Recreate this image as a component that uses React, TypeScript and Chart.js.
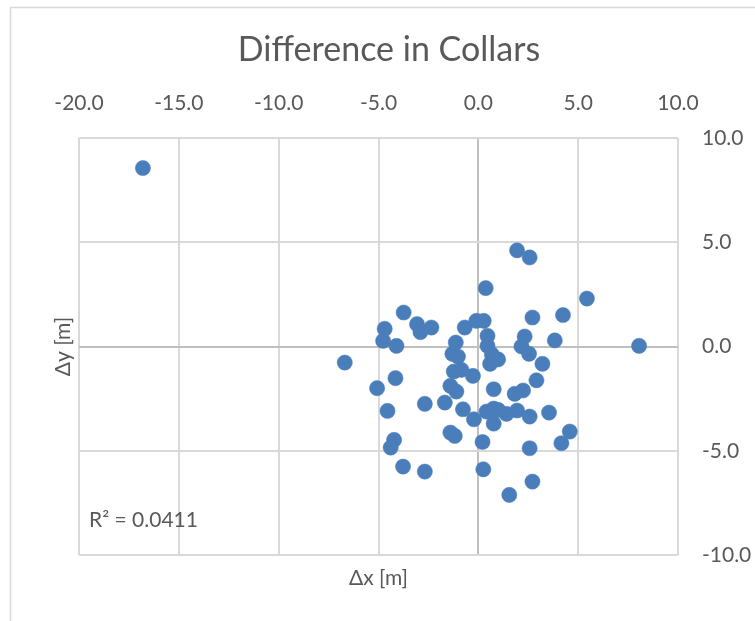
import { useEffect, useRef } from "react";
import { Chart, registerables } from "chart.js";

Chart.register(...registerables);

const chartTitle = "Difference in Collars";
const xAxisTitle = "Δx [m]";
const yAxisTitle = "Δy [m]";
const rSquaredLabel = "R² = 0.0411";

const xMin = -20;
const xMax = 10;
const yMin = -10;
const yMax = 10;
const tickStep = 5;

const xValues = [
  -16.8, 1.94, 2.57, 0.37, -3.74, -4.69, -4.77, -4.1, -3.07, -2.9,
  -2.35, -0.68, -0.1, 0.27, 0.46, 0.46, 0.68, 0.99, 0.59, -1.13,
  -1.3, -1.02, -6.69, -1.23, -0.85, -0.27, -4.15, -5.07, 0.77, -1.4,
  -1.1, 5.44, 4.24, 2.71, 2.32, 3.83, 2.16, 2.54, 8.05, 3.21,
  2.91, 1.82, 2.24, -4.55, -2.68, -1.68, -0.77, -0.22, 0.41, 0.77,
  0.99, 0.77, 1.41, 1.94, 2.57, 3.54, -1.4, -1.18, 0.21, -4.22,
  -4.39, -3.77, -2.68, 0.25, 1.55, 4.58, 4.16, 2.57, 2.71,
];

const yValues = [
  8.56, 4.61, 4.27, 2.8, 1.63, 0.85, 0.27, 0.03, 1.07, 0.69,
  0.91, 0.91, 1.23, 1.23, 0.51, 0.03, -0.38, -0.62, -0.83, 0.19,
  -0.35, -0.48, -0.77, -1.2, -1.12, -1.41, -1.52, -2.0, -2.05, -1.89,
  -2.16, 2.3, 1.51, 1.39, 0.48, 0.29, 0.0, -0.35, 0.03, -0.83,
  -1.62, -2.27, -2.11, -3.09, -2.75, -2.69, -3.01, -3.49, -3.12, -2.98,
  -3.04, -3.7, -3.23, -3.07, -3.36, -3.17, -4.13, -4.29, -4.58, -4.48,
  -4.85, -5.76, -6.0, -5.89, -7.12, -4.08, -4.64, -4.88, -6.48,
];

const TEXT = "#595959";
const GRID = "#d9d9d9";
const ZERO = "#bfbfbf";
const MARK = "#4a7ebb";
const FONT = "Lato";

const overlayPlugin = {
  id: "overlayTexts",
  beforeDraw(chart: any) {
    const ctx = chart.ctx;
    ctx.save();
    ctx.strokeStyle = GRID;
    ctx.lineWidth = 1.5;
    ctx.beginPath();
    ctx.moveTo(10.5, chart.height + 5);
    ctx.lineTo(10.5, 7.5);
    ctx.lineTo(chart.width + 5, 7.5);
    ctx.stroke();
    ctx.restore();
  },
  afterDraw(chart: any) {
    const ctx = chart.ctx;
    const a = chart.chartArea;
    ctx.save();
    ctx.fillStyle = TEXT;
    ctx.textBaseline = "middle";
    ctx.textAlign = "center";
    ctx.font = `34px ${FONT}`;
    ctx.fillText(chartTitle, 389, 50);
    ctx.font = `21px ${FONT}`;
    ctx.fillText(xAxisTitle, (a.left + a.right) / 2, a.bottom + 23);
    ctx.save();
    ctx.translate(a.left - 16, (a.top + a.bottom) / 2);
    ctx.rotate(-Math.PI / 2);
    ctx.fillText(yAxisTitle, 0, 0);
    ctx.restore();
    ctx.textAlign = "left";
    ctx.fillText(rSquaredLabel, a.left + 10, a.bottom - 35);
    ctx.restore();
  },
};

export default function App() {
  const canvasRef = useRef<HTMLCanvasElement | null>(null);

  useEffect(() => {
    if (!canvasRef.current) return;
    const points = xValues.map((x, i) => ({ x, y: yValues[i] }));
    const gridColor = (c: any) => (c.tick && c.tick.value === 0 ? ZERO : GRID);
    const chart = new Chart(canvasRef.current, {
      type: "scatter",
      data: {
        datasets: [
          {
            data: points,
            backgroundColor: MARK,
            borderColor: MARK,
            borderWidth: 0.5,
            pointRadius: 7.6,
            pointHoverRadius: 7.6,
          },
        ],
      },
      options: {
        animation: false,
        responsive: false,
        layout: { padding: { left: 79, top: 0, right: 0, bottom: 66 } },
        plugins: {
          legend: { display: false },
          tooltip: { enabled: false },
          title: { display: false },
        },
        scales: {
          x: {
            type: "linear",
            position: "top",
            min: xMin,
            max: xMax,
            afterFit: (s: any) => {
              s.height = 138;
            },
            ticks: {
              stepSize: tickStep,
              color: TEXT,
              font: { family: FONT, size: 21 },
              padding: 22,
              maxRotation: 0,
              callback: (v: any) => Number(v).toFixed(1),
            },
            grid: { color: gridColor, lineWidth: 2, drawTicks: false },
            border: { display: false },
          },
          y: {
            type: "linear",
            position: "right",
            min: yMin,
            max: yMax,
            afterFit: (s: any) => {
              s.width = 77;
            },
            ticks: {
              stepSize: tickStep,
              color: TEXT,
              font: { family: FONT, size: 21 },
              padding: 24,
              callback: (v: any) => Number(v).toFixed(1),
            },
            grid: { color: gridColor, lineWidth: 2, drawTicks: false },
            border: { display: false },
          },
        },
      },
      plugins: [overlayPlugin],
    });
    return () => chart.destroy();
  }, []);

  return (
    <div style={{ position: "fixed", left: 0, top: 0, width: 755, height: 621, background: "#fff" }}>
      <canvas ref={canvasRef} width={755} height={621} style={{ width: 755, height: 621 }} />
    </div>
  );
}
